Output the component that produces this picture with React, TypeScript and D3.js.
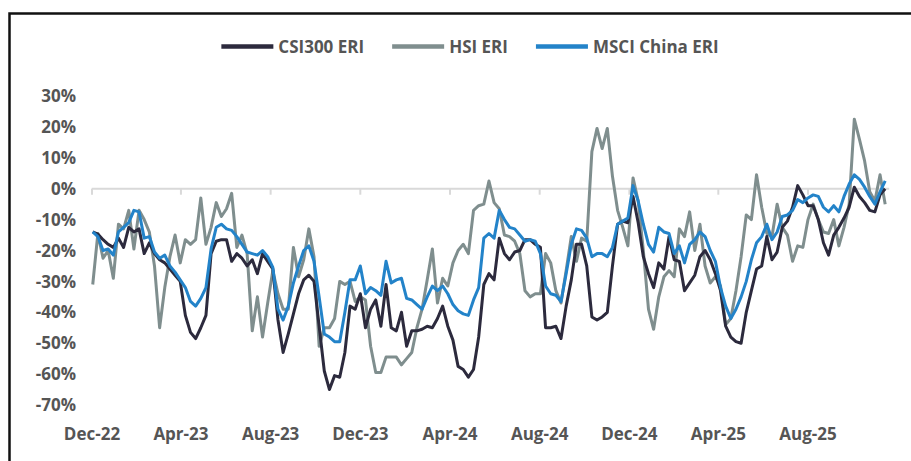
import { useEffect, useRef } from "react";
import * as d3 from "d3";

// weekly ERI premium, % (first obs 2 Dec 2022)
const firstWeek = new Date(2022, 11, 2);

const csi300 = [
  -14, -14.7, -16.5, -18, -19, -16, -19, -12.5, -14, -13,
  -21, -17.5, -21, -23, -24, -26, -28, -30, -41, -46.5,
  -48.5, -45, -41, -21, -17, -16.5, -16.5, -23.5, -21, -22.5,
  -25, -23, -27.5, -21, -23.5, -26, -42.5, -53, -47, -40.5,
  -34, -29.5, -28, -30, -44.5, -59, -65, -60.5, -61, -53,
  -38, -39, -34, -45, -39, -36, -44.5, -31, -45, -46,
  -40, -51, -46, -46, -45.5, -44.5, -45, -42, -38, -44.5,
  -49, -57.5, -58.5, -61, -58.5, -48, -31, -27.5, -29.5, -16,
  -21, -23, -20.5, -20, -16.5, -16.5, -18, -19, -45, -45,
  -44.5, -48.5, -38, -29.5, -18, -18, -25, -41.5, -42.5, -41.5,
  -40, -25, -11.5, -10.5, -11, -2.5, -11, -22, -27.5, -32,
  -24, -26, -15.5, -23, -23.5, -33, -30.5, -28, -22, -20,
  -23, -27.5, -33, -44.5, -48, -49.5, -50, -40, -33, -26,
  -25, -15.5, -23, -20.5, -12.5, -10.5, -6, 1, -2, -5.5,
  -5.5, -10, -17.5, -21.5, -15, -12.5, -9.5, -6, 0.5, -2.5,
  -4.5, -7, -7.5, -2, 0,
];

const hsi = [
  -31, -14.5, -22.5, -20, -29, -11.5, -13, -7, -19.5, -7,
  -10, -14, -25, -45, -32, -22, -15, -24, -16.5, -18,
  -16.5, -3, -18, -12.5, -4.5, -9, -6.5, -1.5, -19, -15,
  -21, -46, -35, -48, -37, -26.5, -34, -39, -39, -19,
  -28.5, -23, -13, -22, -51, -45, -45, -42, -30, -31,
  -30, -36.5, -35, -36, -51, -59.5, -59.5, -54.5, -54.5, -54.5,
  -57, -55, -53, -45, -39, -29.5, -19.5, -37, -29, -31.5,
  -24, -20, -18, -21, -7, -5.5, -5, 2.5, -4.5, -6.5,
  -15, -15.5, -17, -21, -33, -35, -34, -34, -21, -24,
  -33, -37, -26.5, -15.5, -23.5, -16, -17, 12, 19.5, 13,
  19.5, 4, -7, -12.5, -18.5, 3.5, -4, -20, -39, -45.5,
  -35, -28.5, -26.5, -28.5, -13, -15.5, -7.5, -20, -11.5, -25,
  -30.5, -28.5, -31.5, -44, -42, -33, -22, -8.5, -10, 4.5,
  -6, -14.5, -15.5, -5, -12.5, -15, -23.5, -18.5, -19, -10,
  -5, -10, -14, -14.5, -10, -18.5, -12.5, -5, 22.5, 16,
  9, -1, -4, 4.5, -5,
];

const msciChina = [
  -14, -15.5, -20, -19.5, -21.5, -14, -12.5, -11, -7, -7.5,
  -16, -15.5, -20.5, -22.5, -21.5, -25, -27, -29.5, -32, -36.5,
  -38, -35.5, -32, -19.5, -12.5, -11.5, -13, -13.5, -15.5, -18,
  -20.5, -21, -21.5, -20, -22, -25.5, -39, -42.5, -38, -30.5,
  -25, -20, -18.5, -23.5, -35, -47, -48, -49.5, -49.5, -40,
  -29.5, -29.5, -25, -34, -32, -33, -34.5, -23.5, -30.5, -29.5,
  -29, -35.5, -36, -37.5, -39, -35, -31.5, -33, -31.5, -34,
  -37.5, -39.5, -40.5, -41, -36, -32, -16, -14.5, -16, -7,
  -10, -12.5, -13, -15, -17, -16.5, -17, -21, -31.5, -34,
  -34.5, -36.5, -27.5, -18, -13, -13.5, -16, -22, -21, -21,
  -22, -19, -11.5, -10.5, -9.5, 1, -4, -11.5, -18, -20.5,
  -12.5, -14, -14.5, -21, -18.5, -24, -18, -16.5, -14, -15.5,
  -20, -23.5, -32, -38, -42, -39, -35, -30, -23, -17.5,
  -15.5, -11.5, -16.5, -14, -9, -8.5, -7, -3.5, -4.5, -3,
  -2, -2.5, -6, -7.5, -5.5, -7.5, -2.5, 1.5, 4.5, 3,
  0.5, -2.5, -5, -1, 2.5,
];

const seriesNames = ["CSI300 ERI", "HSI ERI", "MSCI China ERI"];
const seriesColors = ["#2c2a3d", "#7f8e8e", "#2383c9"];
const yTicks = [30, 20, 10, 0, -10, -20, -30, -40, -50, -60, -70];
const xTickDates = ["2022-12-01", "2023-04-01", "2023-08-01", "2023-12-01", "2024-04-01",
  "2024-08-01", "2024-12-01", "2025-04-01", "2025-08-01"];

const W = 911;
const H = 461;
const FONT = "'Open Sans', 'DejaVu Sans', sans-serif";
const TEXT = "#555555";

export default function App() {
  const ref = useRef<SVGSVGElement>(null);

  useEffect(() => {
    const el = ref.current;
    if (!el) return;
    const svg = d3.select(el);
    svg.selectAll("*").remove();

    const dates = csi300.map((_, i) => d3.timeDay.offset(firstWeek, 7 * i));
    const ticks = xTickDates.map((s) => d3.timeParse("%Y-%m-%d")(s) as Date);

    const x = d3.scaleTime()
      .domain([ticks[0], ticks[ticks.length - 1]])
      .range([92, 808]);
    const y = d3.scaleLinear().domain([-70, 30]).range([405, 96]);

    svg.append("rect").attr("width", W).attr("height", H).attr("fill", "#fff");

    // frame
    svg.append("path")
      .attr("d", `M9.5,${H + 5} V13.5 H${W + 5}`)
      .attr("fill", "none").attr("stroke", "#111").attr("stroke-width", 2.5);

    // y labels
    svg.append("g").selectAll("text").data(yTicks).join("text")
      .attr("x", 76).attr("y", (d) => y(d)).attr("dy", "0.36em")
      .attr("text-anchor", "end")
      .attr("fill", TEXT).style("font", `bold 17px ${FONT}`)
      .text((d) => `${d}%`);

    // zero axis with ticks
    const x0 = x(dates[0]) - 1;
    const x1 = x(dates[dates.length - 1]) + 4;
    svg.append("line")
      .attr("x1", x0).attr("x2", x1).attr("y1", y(0)).attr("y2", y(0))
      .attr("stroke", "#d9d9d9").attr("stroke-width", 2);
    svg.append("g").selectAll("line").data(ticks).join("line")
      .attr("x1", (d) => x(d)).attr("x2", (d) => x(d))
      .attr("y1", y(0)).attr("y2", y(0) + 6)
      .attr("stroke", "#d9d9d9").attr("stroke-width", 2);

    // x labels
    svg.append("g").selectAll("text").data(ticks).join("text")
      .attr("x", (d) => x(d)).attr("y", 434).attr("dy", "0.36em")
      .attr("text-anchor", "middle")
      .attr("fill", TEXT).style("font", `bold 17px ${FONT}`)
      .text((d) => d3.timeFormat("%b-%y")(d));

    // lines
    const all = [csi300, hsi, msciChina];
    const line = d3.line<number>()
      .x((_, i) => x(dates[i]))
      .y((d) => y(d));
    [1, 0, 2].forEach((k) => {
      svg.append("path")
        .datum(all[k])
        .attr("d", line)
        .attr("fill", "none")
        .attr("stroke", seriesColors[k])
        .attr("stroke-width", 3)
        .attr("stroke-linejoin", "round");
    });

    // legend, centred
    const leg = svg.append("g");
    const items = seriesNames.map((name, i) => {
      const g = leg.append("g");
      g.append("line").attr("x1", 0).attr("x2", 52).attr("y1", 0).attr("y2", 0)
        .attr("stroke", seriesColors[i]).attr("stroke-width", 4.5);
      const t = g.append("text").attr("x", 57).attr("dy", "0.36em")
        .attr("fill", TEXT).style("font", `bold 17px ${FONT}`).text(name);
      const w = 57 + (t.node() as SVGTextElement).getComputedTextLength();
      return { g, w };
    });
    const gap = 28;
    const total = d3.sum(items, (d) => d.w) + gap * (items.length - 1);
    let cx = 470 - total / 2;
    items.forEach(({ g, w }) => {
      g.attr("transform", `translate(${cx},46.5)`);
      cx += w + gap;
    });
  }, []);

  return (
    <div style={{ position: "fixed", left: 0, top: 0, width: W, height: H }}>
      <svg ref={ref} width={W} height={H} style={{ display: "block" }} />
    </div>
  );
}
